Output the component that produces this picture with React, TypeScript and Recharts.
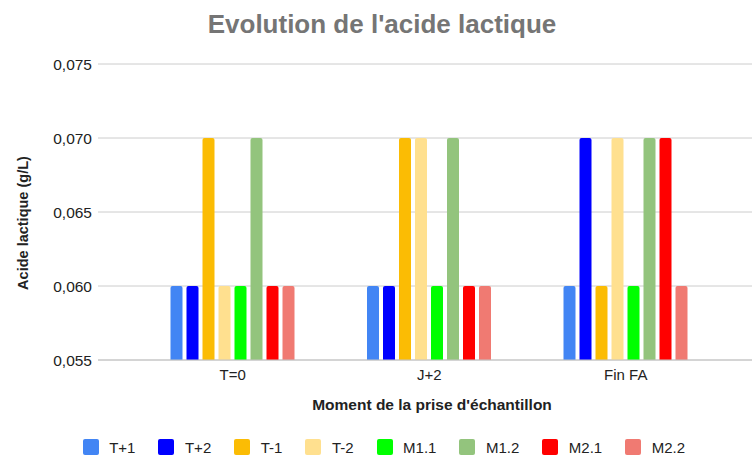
import { BarChart, Bar, XAxis, YAxis, CartesianGrid } from "recharts";

const categories = ["T=0", "J+2", "Fin FA"];
const seriesNames = ["T+1", "T+2", "T-1", "T-2", "M1.1", "M1.2", "M2.1", "M2.2"];
const seriesColors = ["#4285f4", "#0000ff", "#fbbc04", "#ffe08f", "#00ff00", "#93c47d", "#ff0000", "#f07a72"];

const tPlus1 = [0.06, 0.06, 0.06];
const tPlus2 = [0.06, 0.06, 0.07];
const tMinus1 = [0.07, 0.07, 0.06];
const tMinus2 = [0.06, 0.07, 0.07];
const m11 = [0.06, 0.06, 0.06];
const m12 = [0.07, 0.07, 0.07];
const m21 = [0.06, 0.06, 0.07];
const m22 = [0.06, 0.06, 0.06];

const yTicks = [0.055, 0.06, 0.065, 0.07, 0.075];

const seriesValues = [tPlus1, tPlus2, tMinus1, tMinus2, m11, m12, m21, m22];

const data = categories.map((cat, i) => {
  const row: Record<string, string | number> = { cat };
  seriesNames.forEach((name, s) => {
    row[name] = seriesValues[s][i];
  });
  return row;
});

const FONT = "'Liberation Sans', Arial, sans-serif";

export default function App() {
  return (
    <div style={{ position: "absolute", left: 0, top: 0, width: 752, height: 455, overflow: "hidden", background: "#fff", fontFamily: FONT }}>
      {/* title */}
      <div
        style={{
          position: "absolute",
          top: 11,
          left: 382,
          transform: "translateX(-50%)",
          whiteSpace: "nowrap",
          fontSize: 26,
          lineHeight: "26px",
          fontWeight: 700,
          color: "#757575",
        }}
      >
        Evolution de l'acide lactique
      </div>
      {/* y axis title */}
      <div
        style={{
          position: "absolute",
          left: 23,
          top: 223,
          transform: "translate(-50%, -50%) rotate(-90deg)",
          whiteSpace: "nowrap",
          fontSize: 14.5,
          lineHeight: "14.5px",
          fontWeight: 700,
          color: "#222",
        }}
      >
        Acide lactique (g/L)
      </div>
      {/* x axis title */}
      <div
        style={{
          position: "absolute",
          left: 432,
          top: 397,
          transform: "translateX(-50%)",
          whiteSpace: "nowrap",
          fontSize: 15.5,
          lineHeight: "15.5px",
          fontWeight: 700,
          color: "#222",
        }}
      >
        Moment de la prise d'échantillon
      </div>
      {/* legend */}
      <div
        style={{
          position: "absolute",
          left: 82.7,
          top: 439,
          display: "flex",
          alignItems: "flex-start",
          fontSize: 15,
          color: "#222",
        }}
      >
        {seriesNames.map((name, i) => (
          <div key={name} style={{ display: "flex", alignItems: "flex-start", marginRight: 23 }}>
            <span
              style={{
                display: "inline-block",
                width: 16,
                height: 16,
                borderRadius: 2,
                backgroundColor: seriesColors[i],
                marginRight: 10.5,
              }}
            />
            <span style={{ lineHeight: "15px", marginTop: 1.2 }}>{name}</span>
          </div>
        ))}
      </div>
      <BarChart
        width={752}
        height={455}
        data={data}
        margin={{ top: 64, right: 0, left: 0, bottom: 65 }}
        barGap={4}
        barSize={12}
      >
        <CartesianGrid vertical={false} stroke="#cccccc" strokeWidth={1} />
        <XAxis
          dataKey="cat"
          height={30}
          tickLine={false}
          axisLine={{ stroke: "#c4c4c4" }}
          padding={{ left: 36.5, right: 28 }}
          tick={{ fontSize: 15, fill: "#222", fontFamily: FONT }}
          tickMargin={3}
        />
        <YAxis
          width={98}
          domain={[0.055, 0.075]}
          ticks={yTicks}
          allowDataOverflow
          tickLine={false}
          axisLine={false}
          tick={{ fontSize: 15.5, fill: "#222", fontFamily: FONT }}
          tickFormatter={(v: number) => v.toFixed(3).replace(".", ",")}
          tickMargin={0}
        />
        {seriesNames.map((name, i) => (
          <Bar key={name} dataKey={name} fill={seriesColors[i]} radius={[2, 2, 0, 0]} isAnimationActive={false} />
        ))}
      </BarChart>
    </div>
  );
}
